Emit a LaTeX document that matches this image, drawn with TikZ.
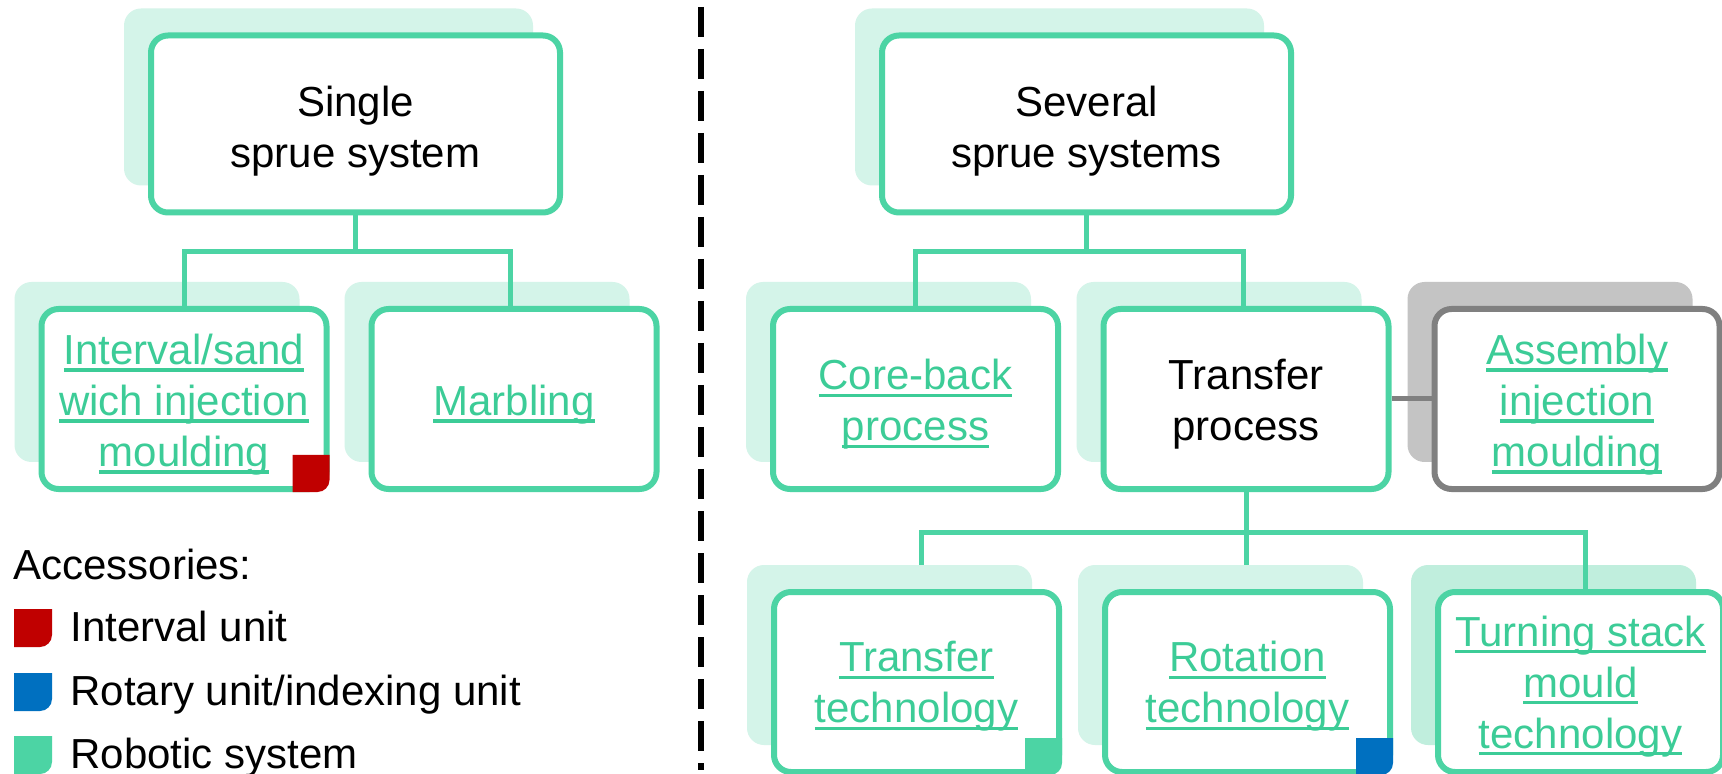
\documentclass[tikz,border=0pt]{standalone}
\usepackage{fontspec}
\setmainfont{Liberation Sans}
\usetikzlibrary{calc}

\definecolor{boxline}{HTML}{4CD4A4}
\definecolor{boxshadowfill}{HTML}{D4F4E9}
\definecolor{boxshadowdark}{HTML}{C0EEDD}
\definecolor{linkgreen}{HTML}{3CCC97}
\definecolor{greyline}{HTML}{808080}
\definecolor{greyshadow}{HTML}{C4C4C4}
\definecolor{accred}{HTML}{C00000}
\definecolor{accblue}{HTML}{0070C0}

% underlined green link text, one line at a time
\newcommand\linktxt[1]{{\color{linkgreen}\setbox0=\hbox{#1}\rlap{\rule[-3.6pt]{\wd0}{1.6pt}}\box0}}

\pgfdeclarelayer{paper}
\pgfdeclarelayer{shadowlayer}
\pgfdeclarelayer{linklayer}
\pgfdeclarelayer{shadowtop}
\pgfsetlayers{paper,shadowlayer,linklayer,shadowtop,main}

\tikzset{
  box/.style={draw=boxline, line width=3pt, fill=white, rounded corners=8.5pt,
    minimum width=142.5pt, minimum height=90pt, inner sep=0pt},
  topbox/.style={box, minimum width=204.5pt, minimum height=88.5pt},
  greybox/.style={box, draw=greyline},
  boxlabel/.style={align=center, inner sep=0pt, font=\fontsize{21pt}{25.5pt}\selectfont},
  boxshadow/.style={fill=boxshadowfill, rounded corners=8.5pt},
  conn/.style={draw=boxline, line width=2.5pt},
  greyconn/.style={draw=greyline, line width=2.5pt},
  legendtext/.style={anchor=base west, inner sep=0pt, font=\fontsize{21pt}{25.5pt}\selectfont},
  divider/.style={draw=black, line width=3pt, dash pattern=on 15pt off 6pt}
}

% drop shadow behind a box node
\newcommand\boxshade[2][]{\fill[boxshadow,#1] ([shift={(-24,30)}]#2.south west) rectangle ([shift={(-30,24)}]#2.north east);}
% accessory marker in the lower right corner of a box
\newcommand\accmark[2]{\fill[#1] ([xshift=-18.5pt]#2.south east) -- ++(0,18.5pt) -- ++(18.5pt,0) -- ++(0,-12.5pt) arc[start angle=0,end angle=-90,radius=6pt] -- cycle;}

\begin{document}
\begin{tikzpicture}[x=0.5pt,y=0.5pt]
\begin{pgfonlayer}{paper}
  \fill[white] (0,0) rectangle (1722,-774);
\end{pgfonlayer}
\useasboundingbox (0,0) rectangle (1722,-774);

% divider between the two groups
\coordinate (divtop) at (701,-7);
\coordinate (divbot) at (701,-770);
\draw[divider] (divtop) -- (divbot);

% single sprue system
\node[topbox] (single) at (355.5,-124) {};
\node[boxlabel] (single-t) at ([yshift=-3.8pt]single.center) {Single\\sprue system};
\node[box] (interval) at (184,-399) {};
\node[boxlabel] (interval-t) at ([yshift=-2.75pt]interval.center) {\linktxt{Interval/sand}\\\linktxt{wich injection}\\\linktxt{moulding}};
\node[box] (marbling) at (514,-399) {};
\node[boxlabel] (marbling-t) at ([yshift=-2.75pt]marbling.center) {\linktxt{Marbling}};

% several sprue systems
\node[topbox] (several) at (1086.5,-124) {};
\node[boxlabel] (several-t) at ([yshift=-3.8pt]several.center) {Several\\sprue systems};
\node[box] (coreback) at (915.5,-399) {};
\node[boxlabel] (coreback-t) at ([yshift=-2.75pt]coreback.center) {\linktxt{Core-back}\\\linktxt{process}};
\node[box] (transfer) at (1246,-399) {};
\node[boxlabel] (transfer-t) at ([yshift=-2.75pt]transfer.center) {Transfer\\process};
\node[greybox] (assembly) at (1577,-399) {};
\node[boxlabel] (assembly-t) at ([yshift=-2.75pt]assembly.center) {\linktxt{Assembly}\\\linktxt{injection}\\\linktxt{moulding}};
\node[box] (ttech) at (916.5,-682) {};
\node[boxlabel] (ttech-t) at ([yshift=-2.2pt]ttech.center) {\linktxt{Transfer}\\\linktxt{technology}};
\node[box] (rotation) at (1247.5,-682) {};
\node[boxlabel] (rotation-t) at ([yshift=-2.2pt]rotation.center) {\linktxt{Rotation}\\\linktxt{technology}};
\node[box] (turning) at (1580.5,-682) {};
\node[boxlabel] (turning-t) at ([yshift=-2.2pt]turning.center) {\linktxt{Turning stack}\\\linktxt{mould}\\\linktxt{technology}};

% shadows
\begin{pgfonlayer}{shadowlayer}
  \boxshade{single}
  \boxshade{several}
  \boxshade{interval}
  \boxshade{marbling}
  \boxshade{coreback}
  \boxshade{transfer}
  \boxshade[fill=greyshadow]{assembly}
  \boxshade[fill=boxshadowdark]{turning}
\end{pgfonlayer}
\begin{pgfonlayer}{shadowtop}
  \boxshade{ttech}
  \boxshade{rotation}
\end{pgfonlayer}

% connectors
\begin{pgfonlayer}{linklayer}
  \draw[conn] (single.south) -- ++(0,-36);
  \draw[conn] (interval.north) |- ($(single.south)+(0,-36)$) -| ([xshift=-2pt]marbling.north);
  \draw[conn] (several.south) -- ++(0,-36);
  \draw[conn] (coreback.north) |- ($(several.south)+(0,-36)$) -| ([xshift=-1.5pt]transfer.north);
  \draw[conn] (transfer.south) -- (transfer.south |- rotation.north);
  \draw[conn] ([xshift=2.25pt]ttech.north) |- ($(transfer.south)+(0,-40)$) -| ([xshift=2.25pt]turning.north);
  \draw[greyconn] (transfer.east) -- (assembly.west);
\end{pgfonlayer}

% accessory markers on the boxes
\accmark{accred}{interval}
\accmark{boxline}{ttech}
\accmark{accblue}{rotation}

% legend
\node[legendtext] (acc) at (13,-579) {Accessories:};
\node[legendtext] (leg1) at (70,-641) {Interval unit};
\node[legendtext] (leg2) at (70,-705) {Rotary unit/indexing unit};
\node[legendtext] (leg3) at (70,-768) {Robotic system};
\fill[accred] (14,-609) -- (52,-609) -- (52,-635) arc[start angle=0,end angle=-90,radius=12] -- (14,-647) -- cycle;
\fill[accblue] (14,-673) -- (52,-673) -- (52,-699) arc[start angle=0,end angle=-90,radius=12] -- (14,-711) -- cycle;
\fill[boxline] (14,-736) -- (52,-736) -- (52,-762) arc[start angle=0,end angle=-90,radius=12] -- (14,-774) -- cycle;
\end{tikzpicture}
\end{document}
